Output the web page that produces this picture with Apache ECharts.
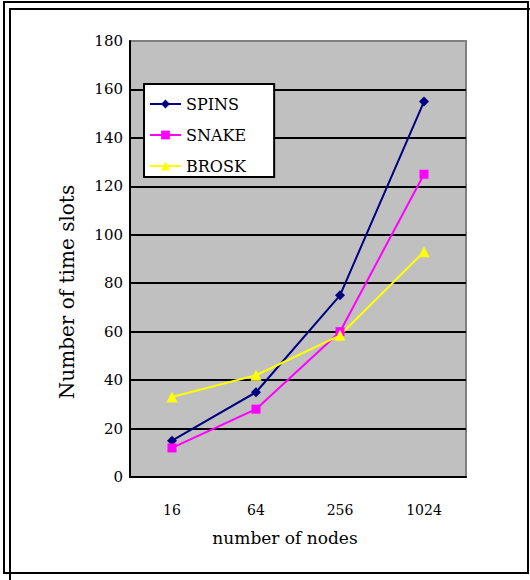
<!DOCTYPE html>
<html>
<head>
<meta charset="utf-8">
<script src="https://cdn.jsdelivr.net/npm/echarts@6/dist/echarts.min.js"></script>
<style>
html,body{margin:0;padding:0;background:#fff;}
#c{width:530px;height:580px;}
</style>
</head>
<body>
<div id="c"></div>
<script>
var categories = ['16', '64', '256', '1024'];
var spins = [15, 35, 75, 155];
var snake = [12, 28, 60, 125];
var brosk = [33, 42, 58.5, 93];
var yTicks = [0, 20, 40, 60, 80, 100, 120, 140, 160, 180];

var serif = '"DejaVu Serif", serif';
var chart = echarts.init(document.getElementById('c'), null, {renderer: 'svg'});
var splitColors = yTicks.map(function (v, i) { return i === yTicks.length - 1 ? '#808080' : '#000000'; });

chart.setOption({
  animation: false,
  backgroundColor: '#ffffff',
  grid: {
    left: 130, right: 64, top: 41, bottom: 103,
    show: true, backgroundColor: '#c0c0c0', borderColor: '#808080', borderWidth: 2
  },
  legend: {
    orient: 'vertical',
    left: 144, top: 84,
    backgroundColor: '#ffffff',
    borderColor: '#000000', borderWidth: 2, borderRadius: 0,
    padding: [12, 28, 3, 5],
    itemWidth: 31, itemHeight: 11, itemGap: 15,
    textStyle: {fontFamily: serif, fontSize: 16, color: '#000'},
    data: ['SPINS', 'SNAKE', 'BROSK']
  },
  xAxis: {
    type: 'category',
    data: categories,
    boundaryGap: true,
    axisLine: {lineStyle: {color: '#000', width: 2}},
    axisTick: {inside: true, length: 5, lineStyle: {color: '#000', width: 2}},
    axisLabel: {fontFamily: serif, fontSize: 14, color: '#000', margin: 26},
    splitLine: {show: false}
  },
  yAxis: {
    type: 'value',
    min: 0, max: 180, interval: 20,
    axisLine: {show: true, lineStyle: {color: '#000', width: 2}},
    axisTick: {show: false},
    axisLabel: {fontFamily: serif, fontSize: 15, color: '#000', margin: 7},
    splitLine: {show: true, lineStyle: {color: splitColors, width: 2}}
  },
  series: [
    {name: 'SPINS', type: 'line', data: spins, symbol: 'diamond', symbolSize: 10,
     itemStyle: {color: '#000080'}, lineStyle: {color: '#000080', width: 2}},
    {name: 'SNAKE', type: 'line', data: snake, symbol: 'rect', symbolSize: 9,
     itemStyle: {color: '#ff00ff'}, lineStyle: {color: '#ff00ff', width: 2}},
    {name: 'BROSK', type: 'line', data: brosk, symbol: 'triangle', symbolSize: 11,
     itemStyle: {color: '#ffff00'}, lineStyle: {color: '#ffff00', width: 2}}
  ],
  graphic: [
    {type: 'rect', shape: {x: 4, y: 2, width: 524, height: 571}, style: {fill: null, stroke: '#000', lineWidth: 2}, silent: true},
    {type: 'polyline', shape: {points: [[10, 582], [10, 9], [532, 9]]}, style: {fill: null, stroke: '#000', lineWidth: 2}, silent: true},
    {type: 'text', x: 285, y: 538, style: {text: 'number of nodes', font: '17px "DejaVu Serif"', fill: '#000', align: 'center', verticalAlign: 'middle'}},
    {type: 'text', x: 67, y: 292, rotation: Math.PI / 2, style: {text: 'Number of time slots', font: '20px "DejaVu Serif"', fill: '#000', align: 'center', verticalAlign: 'middle'}}
  ]
});
</script>
</body>
</html>
